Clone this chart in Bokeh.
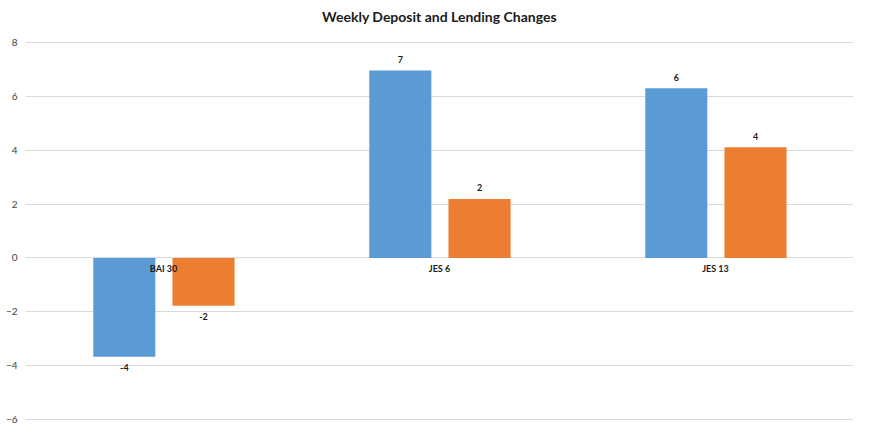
from bokeh.plotting import figure
from bokeh.models import FactorRange, Range1d, FixedTicker, ColumnDataSource, Title
from bokeh.transform import dodge
from bokeh.core.properties import value
from bokeh.embed import file_html
from bokeh.resources import INLINE

categories = ["BAI 30", "JES 6", "JES 13"]
deposits = [-3.67, 6.96, 6.30]
lending = [-1.78, 2.19, 4.11]
y_ticks = [-6, -4, -2, 0, 2, 4, 6, 8]

BLUE = "#5B9BD5"
ORANGE = "#ED7D31"
FONT = "Lato"
PAD = 0.037  # about one pixel so that edge gridlines show

def lab_offsets(vals):
    return [-11 if v >= 0 else 11 for v in vals]

src = ColumnDataSource(dict(
    cat=categories,
    dep=deposits,
    lend=lending,
    dep_txt=["%d" % round(v) for v in deposits],
    lend_txt=["%d" % round(v) for v in lending],
    dep_off=lab_offsets(deposits),
    lend_off=lab_offsets(lending),
    zero=[0] * len(categories),
))

p = figure(width=870, height=435, x_range=FactorRange(*categories, range_padding=0),
           y_range=Range1d(y_ticks[0] - PAD, y_ticks[-1] + PAD),
           output_backend="svg", toolbar_location=None,
           min_border_left=25, min_border_right=17, min_border_top=40, min_border_bottom=15)

# spacer between title and plot area
p.add_layout(Title(text=" ", text_font=FONT, text_font_size="8px", standoff=0), "above")
p.add_layout(Title(text="Weekly Deposit and Lending Changes", align="center",
                   text_font=FONT, text_font_size="14px", text_font_style="bold",
                   text_color="#1a1a1a"), "above")

p.vbar(x=dodge("cat", -0.142, range=p.x_range), top="dep", width=0.225, source=src,
       fill_color=BLUE, line_color=None)
p.vbar(x=dodge("cat", 0.145, range=p.x_range), top="lend", width=0.225, source=src,
       fill_color=ORANGE, line_color=None)

common = dict(text_font=value(FONT), text_font_size="9px", text_font_style="bold",
              text_color="#1a1a1a", text_align="center", text_baseline="middle", source=src)
p.text(x=dodge("cat", -0.142, range=p.x_range), y="dep", text="dep_txt", y_offset="dep_off", **common)
p.text(x=dodge("cat", 0.145, range=p.x_range), y="lend", text="lend_txt", y_offset="lend_off", **common)
p.text(x="cat", y="zero", text="cat", y_offset=11, **common)

p.xaxis.visible = False
p.xgrid.grid_line_color = None
p.ygrid.grid_line_color = "#D9D9D9"
p.ygrid.ticker = FixedTicker(ticks=y_ticks)
p.yaxis.ticker = FixedTicker(ticks=y_ticks)
p.yaxis.axis_line_color = None
p.yaxis.major_tick_line_color = None
p.yaxis.minor_tick_line_color = None
p.yaxis.major_tick_out = 0
p.yaxis.major_tick_in = 0
p.yaxis.major_label_standoff = 8
p.yaxis.major_label_text_font = FONT
p.yaxis.major_label_text_font_size = "10px"
p.yaxis.major_label_text_color = "#404040"
p.outline_line_color = None
p.border_fill_color = "white"
p.background_fill_color = "white"

open("out.html", "w").write(file_html(p, INLINE))
